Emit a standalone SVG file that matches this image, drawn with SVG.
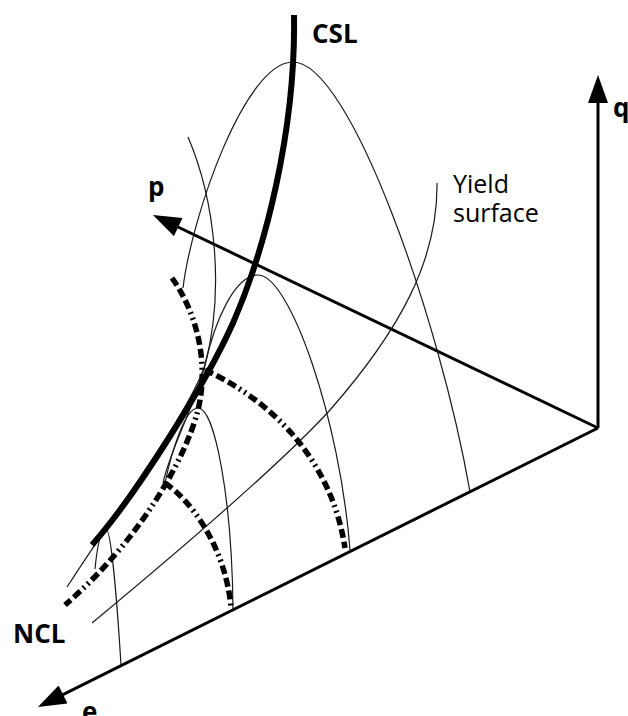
<svg xmlns="http://www.w3.org/2000/svg" width="628" height="716" viewBox="0 0 628 716">
<style>
.axis{fill:none;stroke:#000;stroke-width:3;marker-end:url(#arr)}
.thin{fill:none;stroke:#1a1a1a;stroke-width:1.2}
.csl{fill:none;stroke:#000;stroke-width:6}
.dash{fill:none;stroke:#000;stroke-width:5.5;stroke-dasharray:9 4 9 4 9 4 2 4 2 4}
.lbl{font-family:"Open Sans","Liberation Sans",sans-serif;font-weight:bold;font-size:26px;fill:#000}
.reg{font-family:"Open Sans","Liberation Sans",sans-serif;font-size:25px;fill:#000}
</style>
<defs>
<marker id="arr" markerUnits="userSpaceOnUse" markerWidth="30" markerHeight="20" viewBox="0 0 28 20" refX="13" refY="10" orient="auto">
<path d="M0,0 L28,10 L0,20 z" fill="#000"/>
</marker>
</defs>
<rect width="628" height="716" fill="#fff"/>
<g id="axes">
<line id="q-axis" class="axis" x1="598" y1="428" x2="598" y2="90"/>
<line id="p-axis" class="axis" x1="598" y1="428" x2="166.5" y2="221.5"/>
<line id="e-axis" class="axis" x1="598" y1="428" x2="51.4" y2="700.3"/>
</g>
<g id="yield-surfaces">
<path id="big-arc" class="thin" d="M183,288 C192,215 245,62 293,62 C350,62 440,320 470,492"/>
<path id="curve-a" class="thin" d="M188,137 C215,200 225,290 205,365 C195,405 170,450 163,483"/>
<path id="medium-arc" class="thin" d="M67,587 C130,490 190,410 205,365 C215,320 235,275 258,275 C290,275 340,420 350,550"/>
<path id="small-arc" class="thin" d="M165,483 C172,450 185,408 198,408 C215,408 232,500 233,609"/>
<path id="tiny-arc" class="thin" d="M95,569 C97,548 100,530 106,529 C111,529 117,600 121,665"/>
<path id="yield-surface" class="thin" d="M437,183 C438,260 400,330 330,410 C280,465 180,550 92,623"/>
</g>
<g id="csl">
<path class="csl" d="M294,15 C296,130 265,250 233,323 C207,381 140,490 92,545"/>
</g>
<g id="ncl-lines">
<path id="ncl" class="dash" d="M172,278 C195,310 210,360 198,410 C185,460 140,540 65,605"/>
<path id="url-1" class="dash" d="M205,370 C260,395 330,450 345,548"/>
<path id="url-2" class="dash" d="M165,483 C190,500 225,545 231,607"/>
</g>
<g id="labels">
<text class="lbl" x="312" y="43">CSL</text>
<text class="lbl" x="13" y="643">NCL</text>
<text class="lbl" x="148" y="196">p</text>
<text class="lbl" x="613" y="117">q</text>
<text class="lbl" x="82" y="721">e</text>
<text class="reg" x="453" y="193">Yield</text>
<text class="reg" x="453" y="222">surface</text>
</g>
</svg>
